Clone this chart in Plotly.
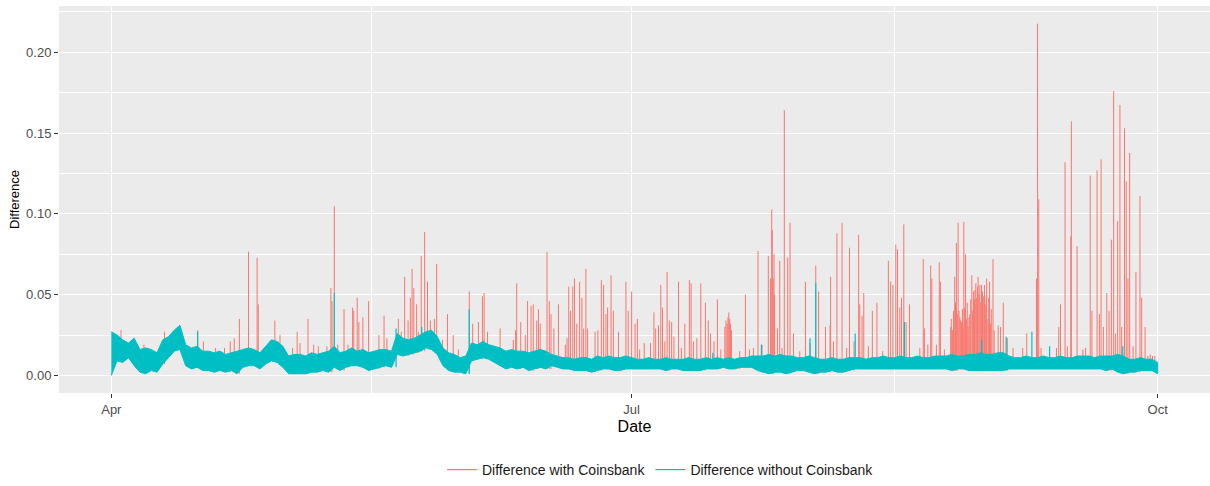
import pandas as pd
import plotly.graph_objects as go

# ---------------- data ----------------
START = "2018-04-01"

# daily upper / lower envelope of "Difference without Coinsbank" (day 0 = Apr 1)
teal_hi = [
    0.027, 0.025, 0.022, 0.020, 0.023, 0.016, 0.017, 0.016, 0.014, 0.022,
    0.024, 0.028, 0.031, 0.019, 0.017, 0.018, 0.015, 0.015, 0.014, 0.015,
    0.013, 0.014, 0.015, 0.016, 0.017, 0.016, 0.014, 0.018, 0.022, 0.021,
    0.018, 0.012, 0.013, 0.013, 0.012, 0.014, 0.013, 0.014, 0.015, 0.018,
    0.014, 0.015, 0.017, 0.015, 0.016, 0.014, 0.015, 0.016, 0.016, 0.015,
    0.026, 0.023, 0.022, 0.023, 0.025, 0.027, 0.028, 0.024, 0.017, 0.014,
    0.013, 0.011, 0.012, 0.020, 0.019, 0.021, 0.019, 0.018, 0.017, 0.015,
    0.016, 0.015, 0.015, 0.014, 0.015, 0.016, 0.015, 0.013, 0.012, 0.011,
    0.011, 0.010, 0.011, 0.011, 0.010, 0.012, 0.011, 0.012, 0.011, 0.011,
    0.012, 0.011, 0.010, 0.010, 0.011, 0.010, 0.010, 0.011, 0.010, 0.010,
    0.010, 0.011, 0.010, 0.010, 0.011, 0.010, 0.011, 0.010, 0.011, 0.010,
    0.011, 0.011, 0.012, 0.012, 0.012, 0.013, 0.012, 0.013, 0.012, 0.012,
    0.011, 0.011, 0.012, 0.011, 0.010, 0.010, 0.011, 0.010, 0.010, 0.011,
    0.011, 0.011, 0.010, 0.011, 0.011, 0.012, 0.011, 0.011, 0.012, 0.011,
    0.011, 0.012, 0.011, 0.011, 0.012, 0.012, 0.012, 0.013, 0.012, 0.012,
    0.013, 0.013, 0.014, 0.013, 0.013, 0.014, 0.014, 0.012, 0.011, 0.011,
    0.012, 0.011, 0.011, 0.012, 0.011, 0.011, 0.012, 0.011, 0.011, 0.012,
    0.012, 0.012, 0.011, 0.012, 0.012, 0.012, 0.013, 0.012, 0.010, 0.010,
    0.011, 0.010, 0.010, 0.008,
]
teal_lo = [
    0.000, 0.009, 0.008, 0.011, 0.006, 0.002, 0.001, 0.003, 0.002, 0.007,
    0.011, 0.015, 0.016, 0.006, 0.004, 0.005, 0.003, 0.003, 0.002, 0.003,
    0.002, 0.003, 0.001, 0.005, 0.006, 0.006, 0.004, 0.007, 0.009, 0.008,
    0.005, 0.001, 0.001, 0.001, 0.001, 0.002, 0.002, 0.003, 0.002, 0.005,
    0.003, 0.005, 0.006, 0.006, 0.005, 0.003, 0.004, 0.005, 0.006, 0.005,
    0.013, 0.012, 0.013, 0.014, 0.015, 0.017, 0.016, 0.013, 0.006, 0.003,
    0.002, 0.002, 0.001, 0.009, 0.010, 0.011, 0.010, 0.008, 0.006, 0.004,
    0.005, 0.004, 0.005, 0.003, 0.004, 0.005, 0.004, 0.006, 0.005, 0.004,
    0.004, 0.003, 0.003, 0.003, 0.002, 0.003, 0.004, 0.004, 0.003, 0.003,
    0.004, 0.004, 0.004, 0.004, 0.004, 0.004, 0.004, 0.003, 0.004, 0.004,
    0.003, 0.003, 0.003, 0.003, 0.004, 0.004, 0.004, 0.005, 0.004, 0.004,
    0.005, 0.005, 0.005, 0.003, 0.002, 0.001, 0.002, 0.002, 0.001, 0.002,
    0.003, 0.003, 0.002, 0.001, 0.002, 0.002, 0.003, 0.002, 0.002, 0.003,
    0.004, 0.004, 0.004, 0.004, 0.004, 0.004, 0.004, 0.004, 0.004, 0.004,
    0.004, 0.004, 0.004, 0.004, 0.004, 0.004, 0.004, 0.003, 0.004, 0.004,
    0.003, 0.003, 0.003, 0.003, 0.003, 0.003, 0.003, 0.004, 0.004, 0.004,
    0.004, 0.004, 0.004, 0.004, 0.004, 0.004, 0.004, 0.004, 0.004, 0.004,
    0.004, 0.004, 0.004, 0.004, 0.003, 0.004, 0.002, 0.001, 0.002, 0.002,
    0.003, 0.003, 0.003, 0.001,
]

# isolated peaks of "Difference without Coinsbank": (day, value)
teal_spike_day = [15.1, 28.2, 39.0, 49.8, 54.3, 62.6, 105.2, 113.7, 122.2, 123.2,
                  130.1, 138.7, 152.2, 156.5, 161.0, 164.1, 176.9]
teal_spike_val = [0.027, 0.022, 0.051, 0.029, 0.030, 0.041, 0.014, 0.019, 0.023, 0.057,
                  0.026, 0.033, 0.022, 0.024, 0.027, 0.018, 0.018]

# peaks of "Difference with Coinsbank": (day, value)
red_spike_day = [
    1.7, 4.6, 5.7, 9.3, 15.1, 16.1, 18.2, 19.8, 20.8, 21.5, 22.4, 24.0, 25.5, 25.7, 28.6,
    29.5, 31.7, 32.5, 33.0, 34.4, 35.4, 36.2, 37.7, 38.4, 38.6, 39.0, 39.6, 40.7, 41.4, 42.2,
    42.4, 43.0, 43.3, 44.0, 45.0,
    46.8, 47.7, 48.2, 50.2, 50.7, 51.3, 51.9, 52.3, 52.6, 52.9, 53.4, 53.7, 54.2, 54.8, 55.3,
    55.8, 56.5, 56.9, 57.9, 58.8, 59.8, 60.7, 62.6, 63.2, 64.2, 64.9, 65.2, 65.8, 68.0, 70.3,
    70.7, 70.9, 71.6, 72.4, 72.8, 73.4, 73.8, 74.4, 74.7, 75.0, 76.2, 76.6, 76.9, 77.4, 78.2,
    79.4, 79.7, 80.0, 80.3, 80.7, 81.0, 81.4, 81.9, 82.3, 82.6, 83.0, 83.3, 84.6, 85.1, 85.7,
    86.1, 86.5, 86.8, 87.4, 87.8, 88.7, 90.0, 90.4, 91.0,
    91.6, 92.0, 92.4, 93.2, 94.3, 94.9, 95.2, 95.7, 96.1, 96.4, 96.8, 97.2, 97.6, 98.0, 98.4,
    99.2, 99.7, 100.3, 101.1, 101.4, 101.8, 102.4, 103.1, 103.9, 104.4, 104.8, 105.4, 106.0,
    106.6, 107.3, 107.5, 107.7, 107.85, 108.0, 108.15, 108.3, 108.45, 109.9, 110.9, 111.6,
    112.3, 113.1, 113.8, 114.9, 115.3, 115.5, 115.6, 115.75, 115.9, 116.0, 116.5, 116.9,
    117.3, 117.7, 118.3, 118.7, 119.3, 120.4, 121.4, 122.2, 123.2, 123.7, 124.9, 125.7,
    125.8, 126.3, 126.9, 127.8, 128.6, 129.1, 129.9, 130.7, 130.9, 131.3, 131.6, 132.4,
    133.1, 133.9, 134.9, 135.9, 136.3, 136.7, 137.2, 137.5,
    137.9, 138.2, 138.6, 139.0, 139.6, 141.4, 142.0, 142.2, 142.8, 143.3, 143.5, 144.3,
    144.8, 145.0, 145.7,
    146.8, 146.9, 147.1, 147.3, 147.5, 147.65, 147.8, 147.95, 148.1, 148.25, 148.4, 148.55,
    148.7, 148.85, 149.0, 149.1, 149.25, 149.4, 149.55, 149.7, 149.85, 150.0, 150.15, 150.3,
    150.5, 150.65, 150.8, 150.95, 151.05, 151.2, 151.35, 151.5, 151.6, 151.75, 151.9, 152.05,
    152.2, 152.35, 152.5, 152.7, 152.85, 153.0, 153.1, 153.3, 153.45, 153.6, 153.75, 153.9,
    154.2, 154.4,
    155.1, 155.5, 156.0, 156.7, 157.7, 159.4, 160.1, 161.8, 162.0, 162.2, 162.6, 165.3,
    165.7, 166.0, 166.8, 167.2, 167.8, 167.9, 168.9, 169.9, 170.4, 171.2, 171.5, 172.4,
    172.8, 173.1, 173.5, 174.1, 174.5, 174.9, 175.3, 175.6, 176.0, 176.4, 176.7, 177.2,
    177.5, 177.8, 178.1, 178.7, 179.2, 179.9, 180.2, 180.8, 181.3, 181.7, 182.1, 182.5,
]
red_spike_val = [
    0.028, 0.019, 0.019, 0.027, 0.028, 0.021, 0.017, 0.017, 0.021, 0.023, 0.035, 0.0766, 0.0728, 0.044, 0.034,
    0.025, 0.017, 0.027, 0.020, 0.035, 0.019, 0.018, 0.018, 0.054, 0.046, 0.1047, 0.019, 0.041, 0.019, 0.042,
    0.040, 0.048, 0.033, 0.036, 0.046,
    0.025, 0.037, 0.023, 0.035, 0.027, 0.061, 0.034, 0.048, 0.066, 0.054, 0.044, 0.027, 0.074, 0.0888, 0.058,
    0.034, 0.035, 0.069, 0.022, 0.038, 0.025, 0.016, 0.052, 0.032, 0.033, 0.049, 0.051, 0.027, 0.029, 0.022,
    0.028, 0.057, 0.033, 0.025, 0.046, 0.043, 0.044, 0.034, 0.041, 0.032, 0.0764, 0.046, 0.038, 0.029, 0.044,
    0.019, 0.023, 0.055, 0.040, 0.055, 0.060, 0.032, 0.058, 0.048, 0.029, 0.066, 0.029, 0.027, 0.028, 0.059,
    0.056, 0.038, 0.042, 0.062, 0.040, 0.027, 0.058, 0.040, 0.052,
    0.032, 0.035, 0.016, 0.020, 0.020, 0.039, 0.029, 0.031, 0.056, 0.042, 0.021, 0.064, 0.034, 0.033, 0.024,
    0.058, 0.017, 0.032, 0.059, 0.057, 0.021, 0.023, 0.057, 0.045, 0.034, 0.026, 0.021, 0.047,
    0.016, 0.030, 0.034, 0.032, 0.036, 0.039, 0.035, 0.032, 0.028, 0.015, 0.050, 0.016,
    0.017, 0.077, 0.019, 0.074, 0.060, 0.1027, 0.090, 0.060, 0.075, 0.050, 0.029, 0.071,
    0.017, 0.1642, 0.073, 0.0945, 0.026, 0.015, 0.058, 0.020, 0.068, 0.052, 0.030, 0.031,
    0.061, 0.021, 0.088, 0.0945, 0.017, 0.079, 0.021, 0.087, 0.044, 0.037, 0.051, 0.018,
    0.040, 0.045, 0.015, 0.071, 0.058, 0.056, 0.081, 0.078,
    0.042, 0.048, 0.0935, 0.033, 0.044, 0.017, 0.072, 0.029, 0.019, 0.068, 0.060, 0.019,
    0.070, 0.058, 0.016,
    0.030, 0.035, 0.028, 0.040, 0.061, 0.045, 0.082, 0.038, 0.0945, 0.040, 0.036, 0.034,
    0.033, 0.041, 0.030, 0.095, 0.042, 0.075, 0.035, 0.045, 0.030, 0.036, 0.038, 0.047,
    0.062, 0.040, 0.052, 0.047, 0.053, 0.057, 0.048, 0.055, 0.061, 0.050, 0.056, 0.045,
    0.056, 0.052, 0.049, 0.056, 0.044, 0.049, 0.060, 0.035, 0.048, 0.058, 0.032, 0.041,
    0.072, 0.028,
    0.031, 0.030, 0.045, 0.023, 0.017, 0.017, 0.026, 0.060, 0.2178, 0.109, 0.017, 0.017,
    0.030, 0.044, 0.132, 0.018, 0.086, 0.1573, 0.080, 0.016, 0.017, 0.1237, 0.040, 0.127,
    0.038, 0.1337, 0.030, 0.051, 0.040, 0.084, 0.176, 0.026, 0.0955, 0.1675, 0.030, 0.153,
    0.120, 0.060, 0.1377, 0.018, 0.064, 0.111, 0.048, 0.030, 0.012, 0.013, 0.012, 0.012,
]

x_tick_vals = ["2018-04-01", "2018-07-01", "2018-10-01"]
x_tick_text = ["Apr", "Jul", "Oct"]
x_minor_vals = ["2018-05-16 12:00", "2018-08-16"]
y_tick_vals = [0.00, 0.05, 0.10, 0.15, 0.20]
y_minor_vals = [0.025, 0.075, 0.125, 0.175, 0.225]

RED = "#F8766D"
TEAL = "#00BFC4"

# ---------------- build traces ----------------
t0 = pd.Timestamp(START)


def day_to_str(d):
    return (t0 + pd.Timedelta(days=d)).strftime("%Y-%m-%d %H:%M")


n = len(teal_hi)
band_x = [day_to_str(d) for d in range(n)] + [day_to_str(d) for d in reversed(range(n))]
band_y = list(teal_hi) + list(reversed(teal_lo))


def segments(days, vals):
    xs, ys = [], []
    for d, v in zip(days, vals):
        base = teal_lo[min(int(d), n - 1)]
        xs += [day_to_str(d), day_to_str(d), None]
        ys += [base, v, None]
    return xs, ys


rx, ry = segments(red_spike_day, red_spike_val)
tx, ty = segments(teal_spike_day, teal_spike_val)

fig = go.Figure()
fig.add_trace(go.Scatter(x=rx, y=ry, mode="lines", line=dict(color=RED, width=1),
                         showlegend=False, hoverinfo="skip"))
fig.add_trace(go.Scatter(x=band_x, y=band_y, mode="lines", fill="toself", fillcolor=TEAL,
                         line=dict(color=TEAL, width=1), showlegend=False, hoverinfo="skip"))
fig.add_trace(go.Scatter(x=tx, y=ty, mode="lines", line=dict(color=TEAL, width=1.2),
                         showlegend=False, hoverinfo="skip"))
# legend entries
fig.add_trace(go.Scatter(x=[None], y=[None], mode="lines", line=dict(color=RED, width=1.2),
                         name="Difference with Coinsbank"))
fig.add_trace(go.Scatter(x=[None], y=[None], mode="lines", line=dict(color=TEAL, width=1.2),
                         name="Difference without Coinsbank"))

span = 183 * 0.05
fig.update_layout(
    width=1210, height=486,
    margin=dict(l=59, r=0, t=6, b=90),
    paper_bgcolor="white",
    plot_bgcolor="#EBEBEB",
    font=dict(family="Liberation Sans, Arial, sans-serif", color="#4D4D4D", size=13),
    legend=dict(orientation="h", x=0.5226, xanchor="center", y=-0.2, yanchor="middle",
                font=dict(size=14, color="#1A1A1A"), itemwidth=30,
                bgcolor="rgba(0,0,0,0)"),
    xaxis=dict(
        type="date", automargin=False,
        range=[day_to_str(-span), day_to_str(183 + span)],
        tickmode="array", tickvals=x_tick_vals, ticktext=x_tick_text,
        ticks="outside", ticklen=4, tickcolor="#333333", tickwidth=1,
        showgrid=True, gridcolor="white", gridwidth=1.1,
        minor=dict(tickmode="array", tickvals=x_minor_vals, showgrid=True,
                   gridcolor="white", gridwidth=0.5, ticks=""),
        zeroline=False, showline=False,
        title=dict(text="Date", font=dict(size=16, color="#000000"), standoff=5),
        tickfont=dict(size=13, color="#4D4D4D"),
    ),
    yaxis=dict(
        automargin=False,
        range=[-0.0109, 0.2287],
        tickmode="array", tickvals=y_tick_vals, tickformat=".2f",
        ticks="outside", ticklen=4, tickcolor="#333333", tickwidth=1,
        showgrid=True, gridcolor="white", gridwidth=1.1,
        minor=dict(tickmode="array", tickvals=y_minor_vals, showgrid=True,
                   gridcolor="white", gridwidth=0.5, ticks=""),
        zeroline=False, showline=False,
        title=dict(text="Difference", font=dict(size=13, color="#000000"), standoff=3),
        tickfont=dict(size=13, color="#4D4D4D"),
    ),
)

fig.write_html(
    "out.html",
    config={"displayModeBar": False},
    post_script="document.body.style.margin='0';document.body.style.overflow='hidden';",
)
